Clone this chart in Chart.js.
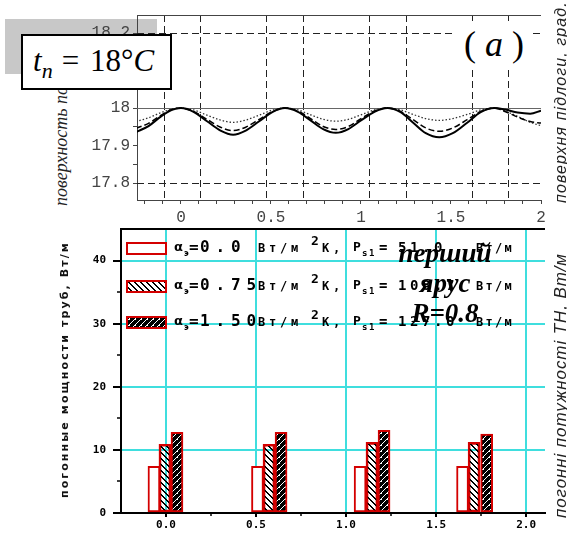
<!DOCTYPE html>
<html>
<head>
<meta charset="utf-8">
<script src="https://cdn.jsdelivr.net/npm/chart.js@4.4.1/dist/chart.umd.min.js"></script>
<style>
  body { margin: 0; width: 567px; height: 539px; position: relative; overflow: hidden; background: #fff; }
  .abs { position: absolute; }
  .rot { position: absolute; white-space: nowrap; transform: rotate(-90deg); transform-origin: 0 0; }
</style>
</head>
<body>
<div class="rot" id="ylabTop" style="left:51px; top:206px; font:italic 18px 'Liberation Serif'; line-height:20px; color:#222; z-index:1">поверхность пола, град.</div>
<div class="abs" style="left:5px; top:19px; width:152px; height:55px; background:#c8c8c8; z-index:2"></div>
<div class="abs" style="left:0; top:0; width:567px; height:225px; z-index:3"><canvas id="chart-top"></canvas></div>
<div class="abs" style="left:0; top:225px; width:567px; height:314px; z-index:3"><canvas id="chart-bottom"></canvas></div>
<div class="rot" style="left:58px; top:498px; font:bold 11px 'DejaVu Sans'; letter-spacing:2.1px; line-height:14px; color:#111; z-index:4">погонные мощности труб, Вт/м</div>
<div class="rot" style="left:552px; top:203px; font:italic 16px 'Liberation Sans'; letter-spacing:1.1px; line-height:18px; color:#222; z-index:4">поверхня підлоги, град.</div>
<div class="rot" style="left:552px; top:518px; font:italic 17px 'Liberation Sans'; letter-spacing:0.9px; line-height:18px; color:#222; z-index:4">погонні потужності ТН, Вт/м</div>
<div class="abs" style="left:21px; top:34px; width:151px; height:56px; box-sizing:border-box; border:2px solid #000; background:#fff; z-index:5; font:31px 'Liberation Serif'; line-height:50px; padding-left:10px; white-space:nowrap"><i>t</i><sub style="font-size:22px; line-height:0"><i>n</i></sub><span style="margin-left:9px">=</span><span style="margin-left:11px">18°</span><i style="letter-spacing:0">C</i></div>
<div class="abs" style="left:455px; top:21px; width:78px; height:46px; background:#fff; z-index:5; font:36px 'Liberation Serif'; line-height:46px; text-align:center; white-space:nowrap">( <i>a</i> )</div>
<div class="abs" style="left:345px; top:238px; width:200px; z-index:6; font:bold italic 27px 'Liberation Serif'; line-height:30px; text-align:center; color:#000">перший<br>ярус<br>R=0.8</div>

<script>
// top chart: floor surface temperature
const curveX = [-0.25, -0.18, -0.11, -0.05, 0, 0.07, 0.145, 0.22, 0.29, 0.36, 0.435, 0.51, 0.578, 0.65, 0.72, 0.79, 0.86, 0.93, 1.0, 1.075, 1.147, 1.22, 1.29, 1.36, 1.435, 1.51, 1.59, 1.665, 1.74, 1.8, 1.87, 1.94, 2.0];
const tSolid = [17.936, 17.952, 17.978, 17.995, 18.0, 17.99, 17.965, 17.94, 17.929, 17.94, 17.965, 17.99, 18.0, 17.99, 17.967, 17.944, 17.934, 17.944, 17.967, 17.99, 18.0, 17.989, 17.961, 17.933, 17.922, 17.933, 17.961, 17.989, 18.0, 17.996, 17.988, 17.985, 17.993];
const tDashed = [17.946, 17.959, 17.981, 17.996, 18.0, 17.991, 17.97, 17.949, 17.94, 17.949, 17.97, 17.991, 18.0, 17.992, 17.972, 17.951, 17.943, 17.951, 17.972, 17.992, 18.0, 17.991, 17.969, 17.947, 17.938, 17.947, 17.969, 17.991, 18.0, 17.991, 17.976, 17.964, 17.96];
const tDotted = [17.964, 17.974, 17.988, 17.997, 18.0, 17.995, 17.981, 17.968, 17.962, 17.968, 17.981, 17.995, 18.0, 17.995, 17.982, 17.97, 17.965, 17.97, 17.982, 17.995, 18.0, 17.995, 17.983, 17.972, 17.967, 17.972, 17.983, 17.995, 18.0, 17.992, 17.978, 17.962, 17.953];
const pipeEdges = [-0.094, 0.105, 0.472, 0.678, 1.044, 1.25, 1.617, 1.817];
const dashedLevels = [17.8, 18.2];
const solidLevel = 18.0;

// bottom chart: linear power of pipes
const barXa = [-0.067, 0.508, 1.078, 1.647];
const barXb = [-0.006, 0.572, 1.144, 1.711];
const barXc = [0.061, 0.639, 1.211, 1.781];
const powerA = [7.4, 7.4, 7.4, 7.4];
const powerB = [10.9, 10.9, 11.2, 11.2];
const powerC = [12.8, 12.8, 13.1, 12.5];
const alphaLabels = ["0.0", "0.75", "1.50"];
const psLabels = ["51.0", "108.7", "127.0"];

const red = "#d40000";
const cyan = "#3fdede";

function makePattern(kind) {
  const c = document.createElement("canvas");
  c.width = 6; c.height = 6;
  const g = c.getContext("2d");
  if (kind === "light") {
    g.fillStyle = "#000";
    for (let i = 0; i < 6; i++) {
      g.fillRect(i, i % 6, 1, 1);
      g.fillRect(i, (i + 1) % 6, 1, 1);
    }
  } else {
    g.fillStyle = "#000";
    g.fillRect(0, 0, 6, 6);
    g.fillStyle = "#fff";
    for (let i = 0; i < 6; i++) {
      g.fillRect(i, (6 - i) % 6, 1, 1);
    }
    g.fillRect(3, 4, 1, 1);
  }
  return g.createPattern(c, "repeat");
}
const patLight = makePattern("light");
const patDense = makePattern("dense");

const pts = (xs, ys) => xs.map((x, i) => ({ x: x, y: ys[i] }));

// grid lines and frame for the top chart
const topFrame = {
  id: "topFrame",
  beforeDatasetsDraw(chart) {
    const { ctx, chartArea: { left, right, top, bottom }, scales: { x, y } } = chart;
    ctx.save();
    ctx.lineWidth = 1;
    ctx.strokeStyle = "#222";
    ctx.setLineDash([7, 4]);
    dashedLevels.forEach((v) => {
      const py = Math.round(y.getPixelForValue(v)) + 0.5;
      ctx.beginPath(); ctx.moveTo(left, py); ctx.lineTo(right, py); ctx.stroke();
    });
    pipeEdges.forEach((v) => {
      const px = Math.round(x.getPixelForValue(v)) + 0.5;
      ctx.beginPath(); ctx.moveTo(px, top); ctx.lineTo(px, bottom); ctx.stroke();
    });
    ctx.setLineDash([]);
    ctx.strokeStyle = "#666";
    const p18 = Math.round(y.getPixelForValue(solidLevel)) + 0.5;
    ctx.beginPath(); ctx.moveTo(left, p18); ctx.lineTo(right, p18); ctx.stroke();
    ctx.strokeStyle = "#444";
    ctx.beginPath(); ctx.moveTo(left, top + 0.5); ctx.lineTo(right, top + 0.5); ctx.stroke();
    ctx.restore();
  },
};

new Chart(document.getElementById("chart-top").getContext("2d"), {
  type: "line",
  data: {
    datasets: [
      { data: pts(curveX, tSolid), borderColor: "#000", borderWidth: 2 },
      { data: pts(curveX, tDashed), borderColor: "#000", borderWidth: 1.5, borderDash: [6, 3] },
      { data: pts(curveX, tDotted), borderColor: "#333", borderWidth: 1.3, borderDash: [1.5, 2] },
    ],
  },
  options: {
    responsive: true,
    maintainAspectRatio: false,
    animation: false,
    layout: { padding: { left: 0, right: 26, top: 15, bottom: 0 } },
    elements: { point: { radius: 0 }, line: { cubicInterpolationMode: "monotone", fill: false } },
    plugins: { legend: { display: false }, tooltip: { enabled: false } },
    scales: {
      x: {
        type: "linear",
        min: -0.244,
        max: 2.0,
        afterFit: (s) => { s.height = 25; },
        grid: { drawOnChartArea: false, tickLength: 4, color: "#444" },
        border: { color: "#444", width: 1 },
        ticks: {
          stepSize: 0.1,
          includeBounds: false,
          autoSkip: false,
          maxRotation: 0,
          padding: 4,
          color: "#444",
          font: { family: "Liberation Mono", size: 16 },
          callback: (v) => (Math.abs(v * 2 - Math.round(v * 2)) < 1e-6 ? String(Math.round(v * 10) / 10) : ""),
        },
      },
      y: {
        min: 17.755,
        max: 18.248,
        afterFit: (s) => { s.width = 137; },
        grid: { drawOnChartArea: false, tickLength: 4, color: "#444" },
        border: { color: "#444", width: 1 },
        ticks: {
          stepSize: 0.05,
          includeBounds: false,
          autoSkip: false,
          padding: 3,
          color: "#444",
          font: { family: "Liberation Mono", size: 16 },
          callback: (v) => (Math.abs(v * 10 - Math.round(v * 10)) < 1e-6 ? String(Math.round(v * 10) / 10) : ""),
        },
      },
    },
  },
  plugins: [topFrame],
});

// legend and extra ticks for the bottom chart
function spaced(ctx, str, x, y, pitch) {
  for (let i = 0; i < str.length; i++) ctx.fillText(str[i], x + i * pitch, y);
}

const bottomExtras = {
  id: "bottomExtras",
  afterDatasetsDraw(chart) {
    const { ctx, chartArea: { left, right, top, bottom }, scales: { x, y } } = chart;
    ctx.save();
    // frame top line
    ctx.strokeStyle = "#000";
    ctx.lineWidth = 2;
    ctx.beginPath(); ctx.moveTo(left, top); ctx.lineTo(right, top); ctx.stroke();
    // minor ticks
    ctx.lineWidth = 1.5;
    for (let v = 5; v < 45; v += 10) {
      const py = Math.round(y.getPixelForValue(v));
      ctx.beginPath(); ctx.moveTo(left - 4, py); ctx.lineTo(left, py); ctx.stroke();
    }
    for (let v = 0.25; v < 2.1; v += 0.5) {
      const px = Math.round(x.getPixelForValue(v));
      ctx.beginPath(); ctx.moveTo(px, bottom); ctx.lineTo(px, bottom + 3); ctx.stroke();
    }
    // legend
    const rowsY = [top + 19, top + 57, top + 93];
    const fills = ["#fff", patLight, patDense];
    ctx.textBaseline = "middle";
    ctx.textAlign = "left";
    rowsY.forEach((ry, i) => {
      ctx.fillStyle = fills[i];
      ctx.fillRect(left + 6, ry - 5, 39, 11);
      ctx.strokeStyle = red;
      ctx.lineWidth = 2;
      ctx.strokeRect(left + 6, ry - 5, 39, 11);
      ctx.fillStyle = "#000";
      ctx.font = "bold 13px 'DejaVu Sans'";
      ctx.fillText("α", left + 53, ry);
      ctx.font = "bold 8px 'DejaVu Sans'";
      ctx.fillText("э", left + 63, ry + 6);
      ctx.font = "bold 16px 'DejaVu Sans Mono'";
      ctx.fillText("=", left + 68, ry);
      spaced(ctx, alphaLabels[i], left + 79, ry, 15.5);
      ctx.font = "bold 12px 'DejaVu Sans Mono'";
      spaced(ctx, "Вт/м", left + 137, ry + 1, 11);
      ctx.font = "bold 13px 'DejaVu Sans Mono'";
      ctx.fillText("2", left + 190, ry - 6);
      ctx.font = "bold 12px 'DejaVu Sans Mono'";
      spaced(ctx, "К,", left + 201, ry + 1, 11);
      ctx.font = "bold 13px 'DejaVu Sans Mono'";
      ctx.fillText("P", left + 232, ry);
      ctx.font = "bold 9px 'DejaVu Sans Mono'";
      spaced(ctx, "s1", left + 241, ry + 6, 7);
      ctx.font = "bold 14px 'DejaVu Sans Mono'";
      ctx.fillText("=", left + 258, ry);
      spaced(ctx, psLabels[i], left + 277, ry, 12);
      ctx.font = "bold 12px 'DejaVu Sans Mono'";
      spaced(ctx, "Вт/м", left + 355, ry + 1, 9.5);
    });
    ctx.restore();
  },
};

const barStyle = { borderColor: red, borderWidth: 2, borderSkipped: false, grouped: false, barThickness: 12 };

new Chart(document.getElementById("chart-bottom").getContext("2d"), {
  type: "bar",
  data: {
    datasets: [
      Object.assign({ data: pts(barXa, powerA), backgroundColor: "#fff" }, barStyle),
      Object.assign({ data: pts(barXb, powerB), backgroundColor: patLight }, barStyle),
      Object.assign({ data: pts(barXc, powerC), backgroundColor: patDense }, barStyle),
    ],
  },
  options: {
    responsive: true,
    maintainAspectRatio: false,
    animation: false,
    layout: { padding: { left: 0, right: 22, top: 4, bottom: 0 } },
    plugins: { legend: { display: false }, tooltip: { enabled: false } },
    scales: {
      x: {
        type: "linear",
        min: -0.25,
        max: 2.105,
        offset: false,
        afterFit: (s) => { s.height = 26; s.paddingLeft = 0; s.paddingRight = 0; },
        grid: { offset: false, color: cyan, lineWidth: 2, tickColor: "#000", tickLength: 4 },
        border: { color: "#000", width: 2 },
        ticks: {
          stepSize: 0.5,
          includeBounds: false,
          autoSkip: false,
          maxRotation: 0,
          padding: 2,
          color: "#000",
          font: { family: "DejaVu Sans Mono", size: 11, weight: "bold" },
          callback: (v) => v.toFixed(1),
        },
      },
      y: {
        min: 0,
        max: 45,
        afterFit: (s) => { s.width = 121; s.paddingTop = 0; s.paddingBottom = 0; },
        grid: {
          color: (c) => (c.tick && c.tick.value === 0 ? "rgba(0,0,0,0)" : cyan),
          lineWidth: 2,
          tickColor: "#000",
          tickLength: 8,
        },
        border: { color: "#000", width: 2 },
        ticks: {
          stepSize: 10,
          includeBounds: false,
          padding: 7,
          color: "#000",
          font: { family: "DejaVu Sans Mono", size: 11, weight: "bold" },
        },
      },
    },
  },
  plugins: [bottomExtras],
});
</script>
</body>
</html>
